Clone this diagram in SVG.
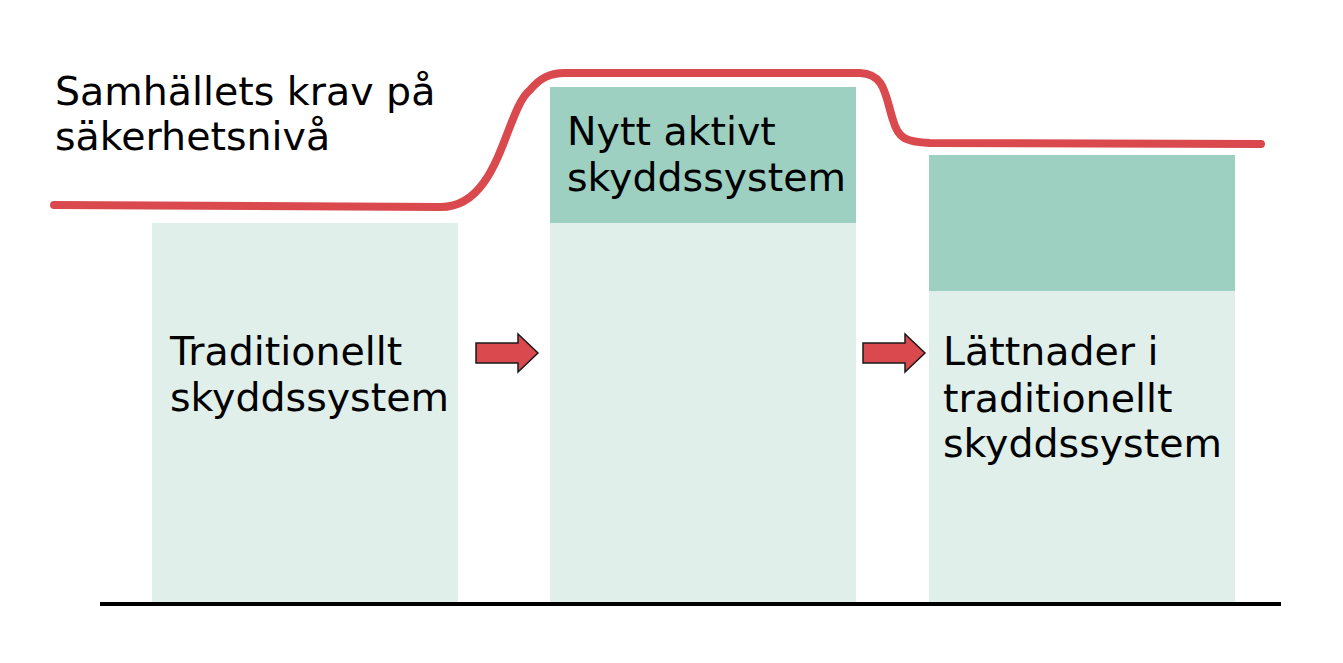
<svg xmlns="http://www.w3.org/2000/svg" width="1343" height="663" viewBox="0 0 1343 663">
<style>
.light{fill:#E0EFEA}
.dark{fill:#9DD0C0}
.t{font-family:"DejaVu Sans",Verdana,sans-serif;font-size:39.5px;fill:#000}
.arrow{fill:#D9494E;stroke:#1a1a1a;stroke-width:1.5}
</style>
<rect width="1343" height="663" fill="#fff"/>
<g id="node-traditional">
<rect class="light" x="152" y="223" width="306" height="381"/>
<text class="t" x="170" y="365">Traditionellt</text>
<text class="t" x="170" y="411">skyddssystem</text>
</g>
<g id="node-active">
<rect class="light" x="550" y="222" width="306" height="382"/>
<rect class="dark" x="550" y="87" width="306" height="136"/>
<text class="t" x="567" y="145">Nytt aktivt</text>
<text class="t" x="567" y="191">skyddssystem</text>
</g>
<g id="node-relief">
<rect class="light" x="929" y="291" width="306" height="313"/>
<rect class="dark" x="929" y="155" width="306" height="136"/>
<text class="t" x="943" y="365">Lättnader i</text>
<text class="t" x="943" y="412">traditionellt</text>
<text class="t" x="943" y="457">skyddssystem</text>
</g>
<g id="label-demand">
<text class="t" x="55" y="105">Samhällets krav på</text>
<text class="t" x="55" y="150">säkerhetsnivå</text>
</g>
<g id="connectors">
<path d="M54,205 L440,207 C500,208 505,110 530,90 C540,78 550,73 565,73 L860,73 C885,74 885,95 893,120 C898,138 905,142 930,143 L1261,144" fill="none" stroke="#D9494E" stroke-width="8" stroke-linecap="round" stroke-linejoin="round"/>
<path class="arrow" d="M476,343 L518,343 L518,334 L538,353 L518,372 L518,363 L476,363 Z"/>
<path class="arrow" d="M863,343 L905,343 L905,334 L925,353 L905,372 L905,363 L863,363 Z"/>
<line x1="100" y1="604" x2="1281" y2="604" stroke="#000" stroke-width="4"/>
</g>
</svg>
